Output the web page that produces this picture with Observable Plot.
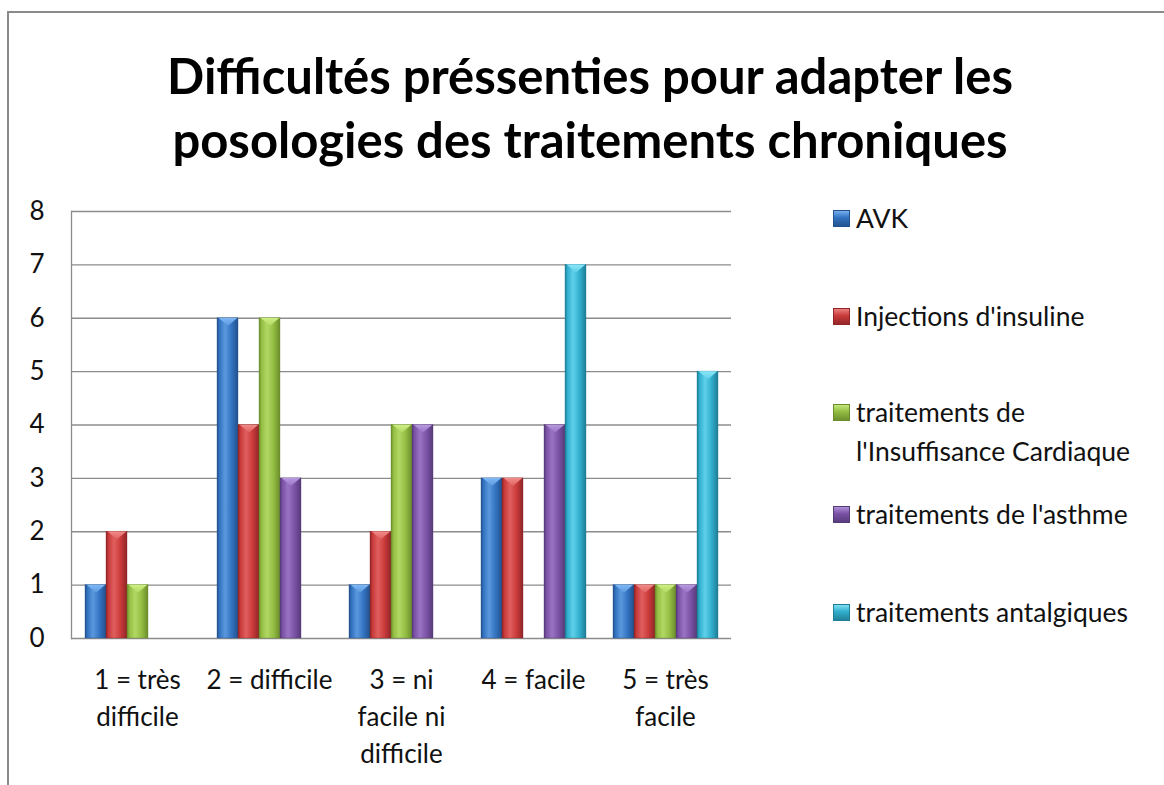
<!DOCTYPE html>
<html>
<head>
<meta charset="utf-8">
<script src="https://cdn.jsdelivr.net/npm/d3@7"></script>
<script src="https://cdn.jsdelivr.net/npm/@observablehq/plot@0.6"></script>
<style>
  html, body { margin: 0; padding: 0; background: #fff; }
  #frame { position: relative; width: 1164px; height: 785px; overflow: hidden; font-family: Lato, "Open Sans", sans-serif; color: #111; }
  #border { position: absolute; left: 7px; top: 11px; width: 1170px; height: 800px; border-left: 2px solid #8a8a8a; border-top: 2px solid #8a8a8a; box-sizing: border-box; }
  #title { position: absolute; left: 0; top: 43px; width: 1180px; text-align: center; font-weight: 700; font-size: 49px; line-height: 64px; color: #000; }
  #chart { position: absolute; left: 0; top: 180px; }
  #legend { position: absolute; left: 833px; top: 0; }
  .item { position: absolute; left: 0; white-space: nowrap; font-size: 26.5px; line-height: 39px; }
  .sw { position: absolute; left: 0; width: 17px; height: 17px; }
  .lt { position: absolute; left: 23px; }
</style>
</head>
<body>
<div id="frame">
  <div id="border"></div>
  <div id="title">Difficultés préssenties pour adapter les<br>posologies des traitements chroniques</div>
  <div id="chart"></div>
  <div id="legend"></div>
</div>
<script>
const categories = ["1 = très\ndifficile", "2 = difficile", "3 = ni\nfacile ni\ndifficile", "4 = facile", "5 = très\nfacile"];
const series = ["AVK", "Injections d'insuline", "traitements de\nl'Insuffisance Cardiaque", "traitements de l'asthme", "traitements antalgiques"];
const avk        = [1, 6, 1, 3, 1];
const insuline   = [2, 4, 2, 3, 1];
const insuffCard = [1, 6, 4, 0, 1];
const asthme     = [0, 3, 4, 4, 1];
const antalg     = [0, 0, 0, 7, 5];
const yTicks = [0, 1, 2, 3, 4, 5, 6, 7, 8];
const baseColors  = ["#3272c0", "#c93a3a", "#92bd42", "#7b52a6", "#31aecd"];
const darkColors  = ["#22518c", "#8f2527", "#6a8c2c", "#553a78", "#1f7d95"];
const lightColors = ["#5b98de", "#e0605f", "#b2d864", "#9a74c4", "#5fd0ea"];
const topColors   = ["#7fb8f5", "#f08c8a", "#cdee84", "#b79ae0", "#8ce6f8"];

const valuesBySeries = [avk, insuline, insuffCard, asthme, antalg];
const data = [];
categories.forEach((c, i) => {
  series.forEach((s, j) => {
    data.push({category: c, series: s, value: valuesBySeries[j][i], idx: j});
  });
});
const shown = data.filter(d => d.value > 0);

const gradIds = series.map((s, j) => `grad${j}`);
const topIds = series.map((s, j) => `top${j}`);

// flat downward-pointing triangle for the bevel at the top of each bar
const bevel = {
  draw(context, size) {
    const w = Math.sqrt(size);
    const h = w * 0.42;
    context.moveTo(-w / 2, -h / 2);
    context.lineTo(w / 2, -h / 2);
    context.lineTo(0, h / 2);
    context.closePath();
  }
};

const FONT = "Lato, 'Open Sans', sans-serif";

const plot = Plot.plot({
  width: 760,
  height: 605,
  marginLeft: 70,
  marginRight: 29,
  marginTop: 31,
  marginBottom: 147,
  style: {fontFamily: FONT, fontSize: "26px", color: "#111", background: "transparent"},
  fx: {domain: categories, padding: 0, label: null},
  x: {domain: series, paddingInner: 0, paddingOuter: 0.6, axis: null},
  y: {domain: [0, 8], label: null},
  color: {domain: series, range: gradIds.map(id => `url(#${id})`)},
  marks: [
    Plot.gridY(yTicks, {stroke: "#8c8c8c", strokeOpacity: 1, strokeWidth: 1.3}),
    Plot.frame({anchor: "left", stroke: "#8c8c8c", strokeWidth: 1.3, fx: [categories[0]]}),
    Plot.axisY(yTicks, {tickSize: 0, tickPadding: 27, fontSize: 26, tickFormat: d3.format("d"), fill: "#111", label: null}),
    Plot.axisFx({anchor: "bottom", tickSize: 0, tickPadding: 24, fontSize: 26, lineHeight: 1.42, fill: "#111", label: null}),
    Plot.barY(shown, {fx: "category", x: "series", y: "value", fill: "series", stroke: d => darkColors[d.idx], strokeWidth: 0.6, strokeOpacity: 0.6}),
    Plot.dot(shown, {fx: "category", x: "series", y: "value", symbol: bevel, r: 10.5, dy: 3.6, fill: d => `url(#${topIds[d.idx]})`, stroke: "none"})
  ]
});

// gradients for the bevelled bar look
const svgNS = "http://www.w3.org/2000/svg";
const defs = document.createElementNS(svgNS, "defs");
series.forEach((s, j) => {
  const g = document.createElementNS(svgNS, "linearGradient");
  g.setAttribute("id", gradIds[j]);
  g.setAttribute("x1", "0"); g.setAttribute("x2", "1"); g.setAttribute("y1", "0"); g.setAttribute("y2", "0");
  [[0, darkColors[j]], [0.12, baseColors[j]], [0.38, lightColors[j]], [0.7, baseColors[j]], [1, darkColors[j]]].forEach(([o, c]) => {
    const st = document.createElementNS(svgNS, "stop");
    st.setAttribute("offset", o);
    st.setAttribute("stop-color", c);
    g.appendChild(st);
  });
  defs.appendChild(g);
  const t = document.createElementNS(svgNS, "linearGradient");
  t.setAttribute("id", topIds[j]);
  t.setAttribute("x1", "0"); t.setAttribute("x2", "0"); t.setAttribute("y1", "0"); t.setAttribute("y2", "1");
  [[0, topColors[j]], [1, lightColors[j]]].forEach(([o, c]) => {
    const st = document.createElementNS(svgNS, "stop");
    st.setAttribute("offset", o);
    st.setAttribute("stop-color", c);
    t.appendChild(st);
  });
  defs.appendChild(t);
});
plot.insertBefore(defs, plot.firstChild);
document.getElementById("chart").appendChild(plot);

// legend
const legendTops = [199, 297, 393, 495, 593];
const legend = document.getElementById("legend");
series.forEach((s, j) => {
  const item = document.createElement("div");
  item.className = "item";
  item.style.top = legendTops[j] + "px";
  const sw = document.createElement("div");
  sw.className = "sw";
  sw.style.top = "11px";
  sw.style.background = `linear-gradient(180deg, ${topColors[j]} 0%, ${baseColors[j]} 45%, ${darkColors[j]} 100%)`;
  sw.style.boxShadow = `inset 0 0 0 1px ${darkColors[j]}`;
  const lt = document.createElement("div");
  lt.className = "lt";
  lt.innerHTML = s.split("\n").join("<br>");
  item.appendChild(sw);
  item.appendChild(lt);
  legend.appendChild(item);
});
</script>
</body>
</html>
